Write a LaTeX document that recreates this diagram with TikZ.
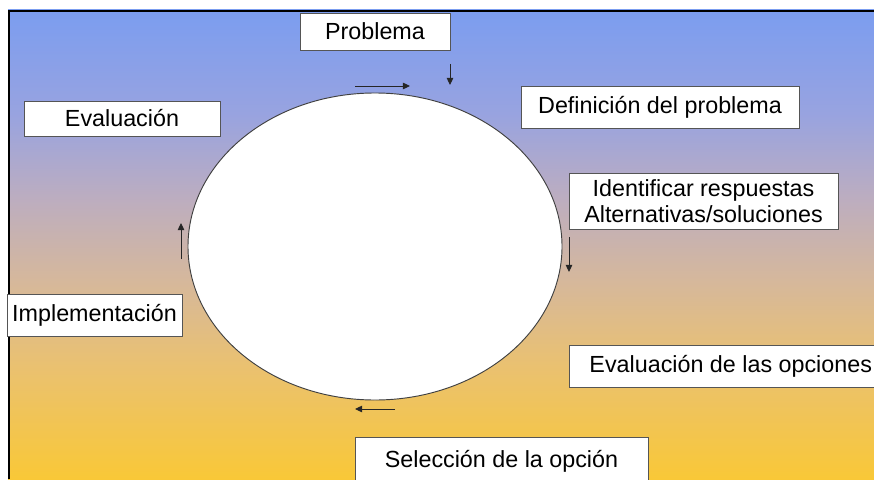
\documentclass[tikz,border=0pt]{standalone}
\usepackage{fontspec}
\setmainfont{Liberation Sans}
\usetikzlibrary{positioning,calc}
\usetikzlibrary{arrows.meta}
\usetikzlibrary{shapes.geometric}

\definecolor{bgblue}{RGB}{123,157,240}
\definecolor{bglilac}{RGB}{152,163,224}
\definecolor{bgmauve}{RGB}{188,173,192}
\definecolor{bgtan}{RGB}{214,184,155}
\definecolor{bgsand}{RGB}{234,193,112}
\definecolor{bgyellow}{RGB}{249,200,55}
\definecolor{boxline}{RGB}{85,85,85}

\pgfdeclareverticalshading{slide}{100bp}{color(0bp)=(bgyellow);
   color(25bp)=(bgyellow); color(37bp)=(bgsand); color(46bp)=(bgtan);
   color(55bp)=(bgmauve); color(64bp)=(bglilac); color(75bp)=(bgblue);
   color(100bp)=(bgblue)}

\begin{document}
\begin{tikzpicture}[x=0.03cm,y=-0.03cm,
         stepbox/.style = {draw=boxline, line width=0.8pt, fill=white,
         inner sep=0pt, align=center, font=\fontsize{19.9}{22.5}\selectfont},
         flow/.style = {draw=black!85, line width=0.8pt,
         -{Triangle[length=6pt,width=5.5pt]}}
]

      \useasboundingbox (0,0) rectangle (874,479);
      \clip (0,0) rectangle (874,479);

      % slide background
      \fill[white] (0,0) rectangle (874,479);
      \shade[shading=slide] (8,10) rectangle (874,479);
      \draw[line width=1.7pt,black] (9,479) -- (9,11) -- (874,11);

      % cycle
      \node[ellipse, draw=black!75, line width=0.8pt, fill=white,
      minimum width=11.22cm, minimum height=9.21cm] (cyc) at (375,246.5) {};

      % steps
      \node[stepbox, minimum width=4.5cm,  minimum height=1.11cm] (prob)
      at (375,31.5) {Problema};
      \node[stepbox, minimum width=8.34cm, minimum height=1.26cm] (defin)
      at (660,107) {Definici\'on del problema};
      \node[stepbox, minimum width=8.07cm, minimum height=1.68cm] (ident)
      at (703.5,201) {Identificar respuestas\\Alternativas/soluciones};
      \node[stepbox, anchor=west, inner xsep=0.6cm, minimum height=1.26cm]
      (evop) at (569,366) {Evaluaci\'on de las opciones};
      \node[stepbox, minimum width=8.79cm, minimum height=1.44cm] (selec)
      at (501.5,461) {Selecci\'on de la opci\'on};
      \node[stepbox, minimum width=5.25cm, minimum height=1.26cm] (impl)
      at (94.5,315) {Implementaci\'on};
      \node[stepbox, minimum width=5.88cm, minimum height=1.05cm] (eval)
      at (122,118.5) {Evaluaci\'on};

      % arrows round the cycle
      \coordinate (a1s) at (355,86);
      \coordinate[right=1.65cm of a1s] (a1e);
      \coordinate (a2s) at (450,64);
      \coordinate[below=0.63cm of a2s] (a2e);
      \coordinate (a3s) at (569,237);
      \coordinate[below=1.05cm of a3s] (a3e);
      \coordinate (a4s) at (395,409);
      \coordinate[left=1.2cm of a4s] (a4e);
      \coordinate (a5s) at (181,259);
      \coordinate[above=1.08cm of a5s] (a5e);

      \draw[flow] (a1s) -- (a1e);
      \draw[flow] (a2s) -- (a2e);
      \draw[flow] (a3s) -- (a3e);
      \draw[flow] (a4s) -- (a4e);
      \draw[flow] (a5s) -- (a5e);

\end{tikzpicture}
\end{document}
